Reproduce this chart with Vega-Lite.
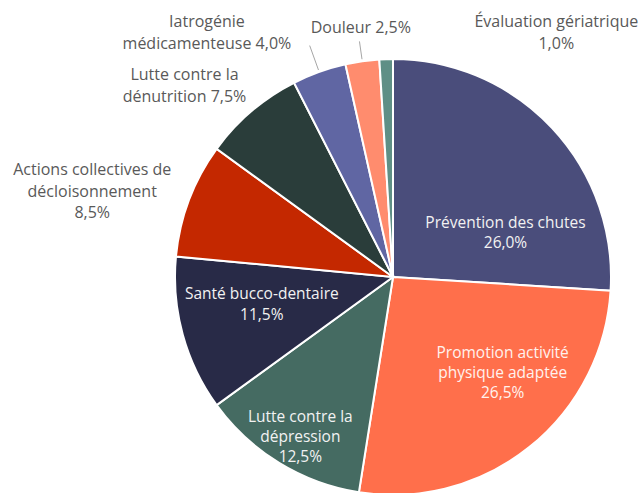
{
  "$schema": "https://vega.github.io/schema/vega-lite/v6.json",
  "autosize": "none",
  "width": 436,
  "height": 436,
  "padding": {"left": 175, "top": 59, "right": 31, "bottom": 0},
  "background": "white",
  "config": {"view": {"stroke": null}, "text": {"font": "Open Sans", "fontSize": 16, "lineBreak": "\n", "lineHeight": 22}},
  "data": {"values": [
    {"idx": 1, "cat": "Prévention des chutes", "v": 26.0, "label": "Prévention des chutes\n26,0%"},
    {"idx": 2, "cat": "Promotion activité physique adaptée", "v": 26.5, "label": "Promotion activité\nphysique adaptée\n26,5%"},
    {"idx": 3, "cat": "Lutte contre la dépression", "v": 12.5, "label": "Lutte contre la\ndépression\n12,5%"},
    {"idx": 4, "cat": "Santé bucco-dentaire", "v": 11.5, "label": "Santé bucco-dentaire\n11,5%"},
    {"idx": 5, "cat": "Actions collectives de décloisonnement", "v": 8.5, "label": "Actions collectives de\ndécloisonnement\n8,5%"},
    {"idx": 6, "cat": "Lutte contre la dénutrition", "v": 7.5, "label": "Lutte contre la\ndénutrition 7,5%"},
    {"idx": 7, "cat": "Iatrogénie médicamenteuse", "v": 4.0, "label": "Iatrogénie\nmédicamenteuse 4,0%"},
    {"idx": 8, "cat": "Douleur", "v": 2.5, "label": "Douleur 2,5%"},
    {"idx": 9, "cat": "Évaluation gériatrique", "v": 1.0, "label": "Évaluation gériatrique\n1,0%"}
  ]},
  "encoding": {
    "theta": {"field": "v", "type": "quantitative", "stack": true},
    "order": {"field": "idx", "type": "quantitative"}
  },
  "layer": [
    {
      "mark": {"type": "arc", "outerRadius": 218, "stroke": "white", "strokeWidth": 2},
      "encoding": {
        "color": {
          "field": "cat", "type": "nominal", "legend": null,
          "scale": {
            "domain": ["Prévention des chutes", "Promotion activité physique adaptée", "Lutte contre la dépression", "Santé bucco-dentaire", "Actions collectives de décloisonnement", "Lutte contre la dénutrition", "Iatrogénie médicamenteuse", "Douleur", "Évaluation gériatrique"],
            "range": ["#4a4d7b", "#ff6f4b", "#456b62", "#282a47", "#c42800", "#2a3d3a", "#6066a3", "#ff8c6e", "#5f8f86"]
          }
        }
      }
    },
    {
      "mark": {"type": "arc", "innerRadius": 220, "outerRadius": 238, "thetaOffset": 0.0785, "fill": null, "stroke": "#a6a6a6", "strokeWidth": 1, "strokeDash": [0, 37.4, 18, 2000]},
      "encoding": {"strokeOpacity": {"condition": {"test": "datum.idx === 8", "value": 1}, "value": 0}}
    },
    {
      "mark": {"type": "arc", "innerRadius": 220, "outerRadius": 246, "thetaOffset": 0.1257, "fill": null, "stroke": "#a6a6a6", "strokeWidth": 1, "strokeDash": [0, 61.8, 26, 2000]},
      "encoding": {"strokeOpacity": {"condition": {"test": "datum.idx === 7", "value": 1}, "value": 0}}
    },
    {
      "mark": {"type": "text", "radius": 120, "dx": 25, "dy": 28, "color": "#f2f2f2", "fontSize": 15.5, "lineHeight": 20},
      "encoding": {"text": {"condition": {"test": "datum.idx === 1", "field": "label"}, "value": ""}}
    },
    {
      "mark": {"type": "text", "radius": 145, "dx": 19, "dy": -37, "color": "#fff2ee", "fontSize": 15.5, "lineHeight": 20},
      "encoding": {"text": {"condition": {"test": "datum.idx === 2", "field": "label"}, "value": ""}}
    },
    {
      "mark": {"type": "text", "radius": 185, "dx": 4, "dy": -18, "color": "#f2f2f2", "fontSize": 15.5, "lineHeight": 20},
      "encoding": {"text": {"condition": {"test": "datum.idx === 3", "field": "label"}, "value": ""}}
    },
    {
      "mark": {"type": "text", "radius": 135, "dx": -1, "dy": -19, "color": "#f2f2f2", "fontSize": 15.5, "lineHeight": 21},
      "encoding": {"text": {"condition": {"test": "datum.idx === 4", "field": "label"}, "value": ""}}
    },
    {
      "mark": {"type": "text", "radius": 313, "dx": -8, "dy": 4, "color": "#595959", "lineHeight": 21.5},
      "encoding": {"text": {"condition": {"test": "datum.idx === 5", "field": "label"}, "value": ""}}
    },
    {
      "mark": {"type": "text", "radius": 281, "dx": -26, "dy": 12, "color": "#595959"},
      "encoding": {"text": {"condition": {"test": "datum.idx === 6", "field": "label"}, "value": ""}}
    },
    {
      "mark": {"type": "text", "radius": 260, "dx": -98, "dy": -10, "color": "#595959"},
      "encoding": {"text": {"condition": {"test": "datum.idx === 7", "field": "label"}, "value": ""}}
    },
    {
      "mark": {"type": "text", "radius": 250, "dx": 3, "dy": -1, "color": "#595959"},
      "encoding": {"text": {"condition": {"test": "datum.idx === 8", "field": "label"}, "value": ""}}
    },
    {
      "mark": {"type": "text", "radius": 245, "dx": 171, "dy": -10, "color": "#595959", "lineHeight": 21.5},
      "encoding": {"text": {"condition": {"test": "datum.idx === 9", "field": "label"}, "value": ""}}
    }
  ]
}
